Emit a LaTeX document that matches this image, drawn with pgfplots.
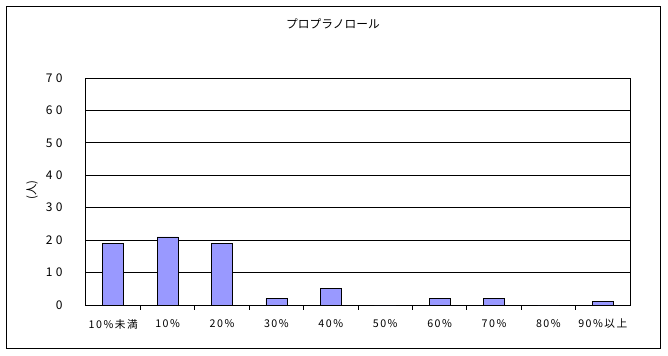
\documentclass[border=0pt]{standalone}
\usepackage{fontspec}
\setmainfont{Noto Sans CJK JP}
\newfontfamily\tickfont[LetterSpace=14]{Noto Sans CJK JP}
\newfontfamily\ytickfont[LetterSpace=28]{Noto Sans CJK JP}
\usepackage{pgfplots}
\pgfplotsset{compat=1.18}
\definecolor{barblue}{HTML}{9999FF}
\begin{document}
\begin{tikzpicture}[x=1pt,y=1pt]
\def\px{0.75}
\path (-86*\px,-50*\px) rectangle (582*\px,305*\px);
\draw[line width=0.75pt] (-79*\px,-43*\px) rectangle (574.5*\px,299*\px);
\node[font=\fontsize{8.8}{10}\selectfont] at (247*\px,281*\px) {プロプラノロール};
\node[font=\fontsize{8.5}{10}\selectfont,rotate=90] at (-54*\px,115*\px) {(人)};
\begin{axis}[
  at={(0,0)}, anchor=south west,
  scale only axis,
  width=408pt, height=170.25pt,
  xmin=-0.5, xmax=9.5,
  ymin=0, ymax=70,
  ytick={0,10,...,70},
  yticklabels={0,10,20,30,40,50,60,70},
  xtick={0,...,9},
  xticklabels={10\%未満,10\%,20\%,30\%,40\%,50\%,60\%,70\%,80\%,90\%以上},
  minor xtick={0.5,1.5,...,8.5},
  xtick pos=bottom, ytick pos=left,
  major tick length=0pt,
  minor tick length=3.5pt,
  tick align=inside,
  ymajorgrids,
  grid style={black, line width=0.75pt},
  axis line style={black, line width=0.75pt},
  minor tick style={black, line width=0.75pt},
  xticklabel style={font=\tickfont\fontsize{8}{10}\selectfont, yshift=-7pt},
  yticklabel style={font=\ytickfont\fontsize{9}{10}\selectfont, xshift=-14pt},
  ybar, bar width=15.75pt,
]
\addplot[fill=barblue, draw=black, line width=0.6pt] coordinates {
(0,19) (1,21) (2,19) (3,2) (4,5.2) (5,0) (6,2) (7,2) (8,0) (9,1.2)};
\end{axis}
\end{tikzpicture}
\end{document}
